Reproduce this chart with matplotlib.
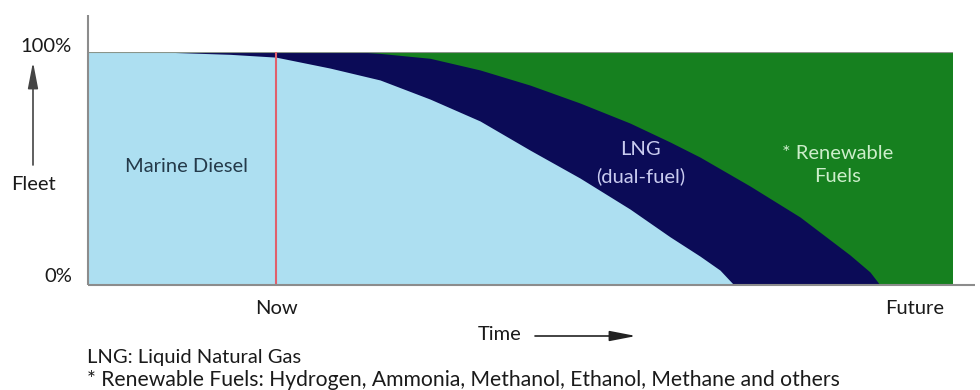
import matplotlib
matplotlib.use("Agg")
import matplotlib.pyplot as plt
from matplotlib.patches import FancyArrowPatch

# Fleet composition over time (fraction of fleet), time axis runs 0..100
time_diesel = [0, 8.32, 16.42, 21.73, 27.98, 33.76, 39.54, 45.32, 51.10, 56.88,
               62.66, 67.28, 70.75, 73.06, 74.68]
share_diesel = [1.0, 1.0, 0.990, 0.978, 0.931, 0.880, 0.798, 0.704, 0.579, 0.459,
                0.326, 0.207, 0.124, 0.064, 0.0]

# Diesel + LNG combined (everything above is renewable fuels)
time_lng = [0, 31.45, 33.76, 39.54, 45.32, 51.10, 56.88, 62.66, 67.28, 70.75,
            76.53, 82.31, 88.09, 90.40, 91.56]
share_diesel_lng = [1.0, 1.0, 0.994, 0.973, 0.923, 0.858, 0.781, 0.695, 0.614, 0.549,
                    0.425, 0.292, 0.129, 0.056, 0.0]

time_span = [0, 100]
now_time = 21.73

y_tick_labels = ["0%", "100%"]
x_tick_labels = ["Now", "Future"]

C_DIESEL = "#addff1"
C_LNG = "#0b0b57"
C_RENEW = "#16801f"
C_NOW = "#e0606c"
C_AXIS = "#8c8c8c"
C_TEXT = "#1a1a1a"

FONT = "Lato"
FS = 14.5

W, H = 980, 390
fig = plt.figure(figsize=(W / 100, H / 100), dpi=100)
ax = fig.add_axes([88 / W, 1 - 285 / H, 865 / W, 233 / H])
ax.set_xlim(0, 100)
ax.set_ylim(0, 1)
ax.axis("off")

# stacked areas, painted back to front
ax.fill_between(time_span, 0, 1, color=C_RENEW, lw=0)
ax.fill_between(time_lng, 0, share_diesel_lng, color=C_LNG, lw=0)
ax.fill_between(time_diesel, 0, share_diesel, color=C_DIESEL, lw=0)
ax.plot(time_span, [1, 1], color="#8a958a", lw=0.8)

ax.axvline(now_time, ymin=0, ymax=1, color=C_NOW, lw=1.5)

# axis lines
ax.plot([0, 0], [0, 1.159], color=C_AXIS, lw=1.5, clip_on=False, solid_capstyle="butt")
ax.plot([0, 102.5], [0, 0], color=C_AXIS, lw=1.5, clip_on=False, solid_capstyle="butt")

# labels inside the areas
ax.text(11.4, 0.51, "Marine Diesel", ha="center", va="center", fontsize=FS,
        family=FONT, color="#243a4a")
ax.text(63.9, 0.524, "LNG\n(dual-fuel)", ha="center", va="center", fontsize=FS,
        family=FONT, color="#c9cbef", linespacing=1.6)
ax.text(86.7, 0.515, "* Renewable\nFuels", ha="center", va="center", fontsize=FS,
        family=FONT, color="#cdeecb", linespacing=1.45)


def ftext(px, py, s, **kw):
    kw.setdefault("fontsize", FS)
    kw.setdefault("family", FONT)
    kw.setdefault("color", C_TEXT)
    fig.text(px / W, 1 - py / H, s, **kw)


def farrow(p0, p1, color):
    fig.add_artist(FancyArrowPatch(
        (p0[0] / W, 1 - p0[1] / H), (p1[0] / W, 1 - p1[1] / H),
        transform=fig.transFigure,
        arrowstyle="-|>,head_length=16,head_width=3.1", color=color, lw=1.2,
        mutation_scale=1.0, shrinkA=0, shrinkB=0))


# y-axis tick labels and title
ftext(72, 46, y_tick_labels[1], ha="right", va="center")
ftext(72, 277, y_tick_labels[0], ha="right", va="center")
ftext(33, 185, "Fleet", ha="center", va="center")
farrow((33, 165), (33, 62), "#444444")

# x-axis labels and title
ax.text(now_time, -0.1, x_tick_labels[0], ha="center", va="center", fontsize=FS,
        family=FONT, color=C_TEXT)
ftext(915, 308, x_tick_labels[1], ha="center", va="center")
ftext(500, 334, "Time", ha="center", va="center")
farrow((535, 336), (636, 336), "#222222")

# footnotes
ftext(87, 357, "LNG: Liquid Natural Gas", ha="left", va="center")
ftext(87, 380, "* Renewable Fuels: Hydrogen, Ammonia, Methanol, Ethanol, Methane and others",
      ha="left", va="center", fontsize=15.2)

fig.savefig("out.png", dpi=100)
